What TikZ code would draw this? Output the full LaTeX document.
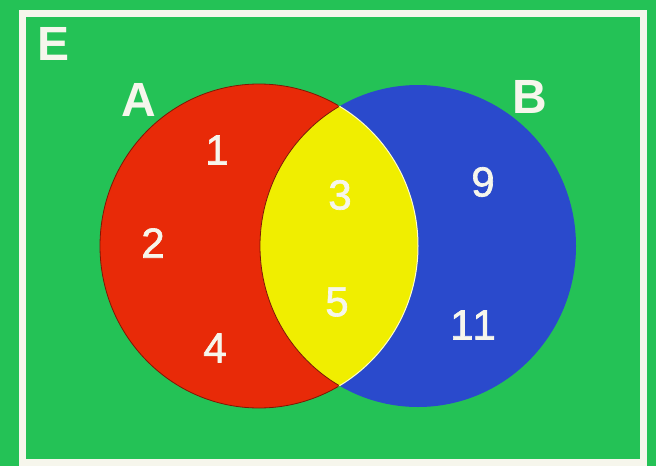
\documentclass[tikz,border=0pt]{standalone}
\usepackage{fontspec}
\setmainfont{Liberation Sans}
\newfontfamily\digitfont[FakeBold=1.6]{Liberation Sans}
\definecolor{bggreen}{RGB}{36,194,86}
\definecolor{vred}{RGB}{232,42,8}
\definecolor{vblue}{RGB}{42,74,204}
\definecolor{vyellow}{RGB}{240,238,0}
\definecolor{txtwhite}{RGB}{246,246,236}
\tikzset{
  setlabel/.style={text=txtwhite, inner sep=0pt, font=\fontsize{48}{48}\selectfont\bfseries},
  elem/.style={text=txtwhite, inner sep=0pt, font=\digitfont\fontsize{42}{42}\selectfont},
}
\begin{document}
\begin{tikzpicture}[x=1pt,y=-1pt]
\useasboundingbox (0,0) rectangle (656,466);
\fill[bggreen] (0,0) rectangle (656,466);
\draw[txtwhite, line width=7pt] (22.5,13.5) rectangle (643.5,462.5);
% circles
\fill[vred] (259,246) ellipse [x radius=159, y radius=162];
\fill[vblue] (418,246) ellipse [x radius=158, y radius=161];
\begin{scope}
  \clip (259,246) ellipse [x radius=159, y radius=162];
  \fill[vyellow] (418,246) ellipse [x radius=158, y radius=161];
  \draw[vred!55!black, line width=0.8pt] (418,246) ellipse [x radius=158, y radius=161];
\end{scope}
\begin{scope}
  \clip (418,246) ellipse [x radius=158, y radius=161];
  \draw[white!80!vyellow, line width=1pt] (259,246) ellipse [x radius=159, y radius=162];
\end{scope}
\begin{scope}
  \clip (0,0) rectangle (338,466);
  \draw[vred!55!black, line width=0.8pt] (259,246) ellipse [x radius=159, y radius=162];
\end{scope}
% labels
\node[setlabel] (E) at (54,44) {E};
\node[setlabel] (A) at (139,100) {A};
\node[setlabel] (B) at (530,97) {B};
\node[elem] (n1) at (217,150) {1};
\node[elem] (n2) at (153,243) {2};
\node[elem] (n4) at (215,348) {4};
\node[elem] (n3) at (340,195) {3};
\node[elem] (n5) at (337,302) {5};
\node[elem] (n9) at (483,182) {9};
\node[elem] (n11) at (473,325) {1\kern-1pt 1};
\end{tikzpicture}
\end{document}
